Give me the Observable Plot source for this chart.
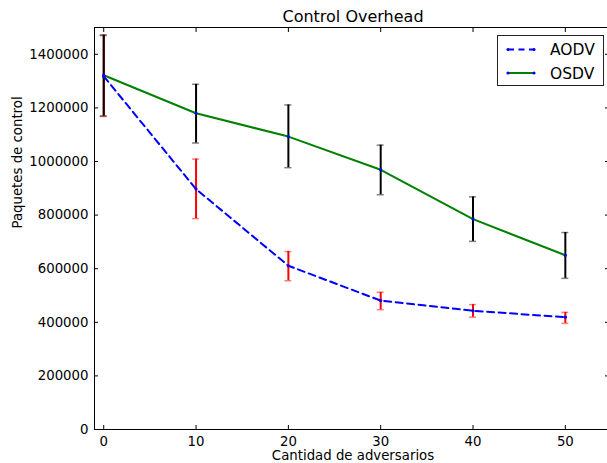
<!DOCTYPE html>
<html>
<head>
<meta charset="utf-8">
<script src="https://cdn.jsdelivr.net/npm/d3@7"></script>
<script src="https://cdn.jsdelivr.net/npm/@observablehq/plot@0.6"></script>
<style>
  html, body { margin: 0; padding: 0; background: #fff; overflow: hidden; }
  #wrap { position: relative; width: 607px; height: 463px; overflow: hidden; font-family: "DejaVu Sans", sans-serif; }
  #wrap svg.main { position: absolute; left: 0; top: 0; max-width: none !important; width: 612px; height: 463px; }
  #legend { position: absolute; left: 497px; top: 35px; width: 105px; height: 49px; border: 1px solid #222; background: #fff; }
</style>
</head>
<body>
<div id="wrap"></div>
<script>
// ---- data ----
const adversarios = [0, 10, 20, 30, 40, 50];
const osdv   = [1322000, 1180000, 1093000, 969000, 785000, 650000];
const osdvLo = [1170000, 1069000, 977000, 876000, 702000, 564000];
const osdvHi = [1472000, 1288000, 1211000, 1061000, 868000, 735000];
const aodv   = [1318000, 897000, 611000, 481000, 443000, 419000];
const aodvLo = [1168000, 787000, 555000, 447000, 419000, 396000];
const aodvHi = [1470000, 1009000, 664000, 512000, 466000, 437000];
const xTicks = [0, 10, 20, 30, 40, 50];
const yTicks = [0, 200000, 400000, 600000, 800000, 1000000, 1200000, 1400000];
const seriesNames = ["AODV", "OSDV"];
const title = "Control Overhead";
const xLabel = "Cantidad de adversarios";
const yLabel = "Paquetes de control";

const dataA = adversarios.map((x, i) => ({x, y: aodv[i], lo: aodvLo[i], hi: aodvHi[i]}));
const dataO = adversarios.map((x, i) => ({x, y: osdv[i], lo: osdvLo[i], hi: osdvHi[i]}));

const capOpts = (col) => ({x1: "x", x2: "x", stroke: col, strokeWidth: 1.5, strokeOpacity: 0.5, insetLeft: -3.5, insetRight: -3.5});

const chart = Plot.plot({
  width: 612,
  height: 463,
  marginLeft: 94,
  marginRight: 1,
  marginTop: 27,
  marginBottom: 34,
  style: {fontFamily: "DejaVu Sans, sans-serif", fontSize: "13.3px", color: "#000", background: "#fff", maxWidth: "none"},
  x: {domain: [-1, 55]},
  y: {domain: [0, 1500000]},
  marks: [
    // error bars
    Plot.ruleX(dataA, {x: "x", y1: "lo", y2: "hi", stroke: "#ff0000", strokeWidth: 2}),
    Plot.ruleY(dataA, {y: "hi", ...capOpts("#ff0000")}),
    Plot.ruleY(dataA, {y: "lo", ...capOpts("#ff0000")}),
    Plot.ruleX(dataO, {x: "x", y1: "lo", y2: "hi", stroke: "#000", strokeWidth: 2}),
    Plot.ruleY(dataO, {y: "hi", ...capOpts("#000")}),
    Plot.ruleY(dataO, {y: "lo", ...capOpts("#000")}),
    // lines
    Plot.line(dataA, {x: "x", y: "y", stroke: "#0000ff", strokeWidth: 2, strokeDasharray: "7,4.5"}),
    Plot.line(dataO, {x: "x", y: "y", stroke: "#008000", strokeWidth: 2}),
    Plot.dot(dataA, {x: "x", y: "y", r: 1.6, fill: "#0000ff"}),
    Plot.dot(dataO, {x: "x", y: "y", r: 1.6, fill: "#0000ff"}),
    // spines
    Plot.ruleX([-1], {stroke: "#000", strokeWidth: 1}),
    Plot.ruleY([0, 1500000], {stroke: "#000", strokeWidth: 1}),
    // inward ticks
    Plot.axisX({ticks: xTicks, anchor: "bottom", tickSize: 4, dy: -4, text: null, label: null}),
    Plot.axisX({ticks: xTicks, anchor: "top", tickSize: 4, dy: 4, text: null, label: null}),
    Plot.axisY({ticks: yTicks, anchor: "left", tickSize: 4, dx: 4, text: null, label: null}),
    Plot.ruleY(yTicks, {y: d => d, x1: 55, x2: 55, insetLeft: -6, insetRight: 4, stroke: "#000"}),
    // tick labels
    Plot.axisX({ticks: xTicks, anchor: "bottom", tickSize: 0, tickPadding: 7, label: null, tickFormat: d => String(d), fontSize: 13.3}),
    Plot.axisY({ticks: yTicks, anchor: "left", tickSize: 0, tickPadding: 6, label: null, tickFormat: d => String(d), fontSize: 13.3}),
    // titles
    Plot.text([title], {text: d => d, frameAnchor: "top", dy: -11, fontSize: 16, lineAnchor: "middle"}),
    Plot.text([xLabel], {text: d => d, frameAnchor: "bottom", dy: 26, fontSize: 13.3, lineAnchor: "middle"}),
    Plot.text([yLabel], {text: d => d, frameAnchor: "left", dx: -77, rotate: -90, fontSize: 13.3, lineAnchor: "middle"})
  ]
});
chart.classList.add("main");

const wrap = document.getElementById("wrap");
wrap.appendChild(chart);

// legend
const legendColors = ["#0000ff", "#008000"];
const legendDash = ["6,4.5", null];
const legend = document.createElement("div");
legend.id = "legend";
const svgNS = "http://www.w3.org/2000/svg";
const lsvg = document.createElementNS(svgNS, "svg");
lsvg.setAttribute("width", 105);
lsvg.setAttribute("height", 49);
seriesNames.forEach((name, i) => {
  const cy = 13.5 + i * 23.5;
  const ln = document.createElementNS(svgNS, "line");
  ln.setAttribute("x1", 10); ln.setAttribute("x2", 36);
  ln.setAttribute("y1", cy); ln.setAttribute("y2", cy);
  ln.setAttribute("stroke", legendColors[i]);
  ln.setAttribute("stroke-width", 2);
  if (legendDash[i]) ln.setAttribute("stroke-dasharray", legendDash[i]);
  lsvg.appendChild(ln);
  [10, 36].forEach(cx => {
    const c = document.createElementNS(svgNS, "circle");
    c.setAttribute("cx", cx); c.setAttribute("cy", cy); c.setAttribute("r", 1.6);
    c.setAttribute("fill", "#0000ff");
    lsvg.appendChild(c);
  });
  const t = document.createElementNS(svgNS, "text");
  t.setAttribute("x", 52); t.setAttribute("y", cy);
  t.setAttribute("dy", "0.36em");
  t.setAttribute("font-size", "15.5px");
  t.setAttribute("font-family", "DejaVu Sans, sans-serif");
  t.textContent = name;
  lsvg.appendChild(t);
});
legend.appendChild(lsvg);
wrap.appendChild(legend);
</script>
</body>
</html>
